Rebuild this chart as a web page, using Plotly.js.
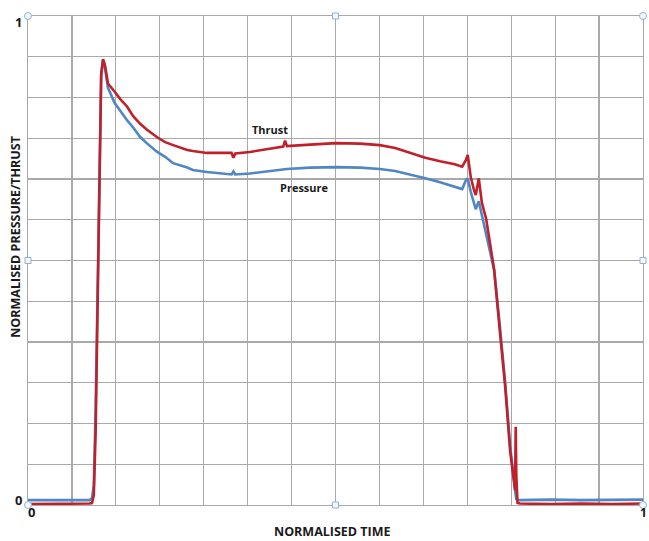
<!DOCTYPE html>
<html>
<head>
<meta charset="utf-8">
<script src="https://cdn.plot.ly/plotly-3.0.1.min.js"></script>
<style>html,body{margin:0;padding:0;background:#fff;}#chart{width:649px;height:541px;}</style>
</head>
<body>
<div id="chart"></div>
<script>
// Normalised time
const time = [0, 0.05, 0.100, 0.104, 0.107, 0.110, 0.113, 0.116, 0.119, 0.122, 0.125, 0.128, 0.130, 0.141, 0.150, 0.161, 0.171, 0.182, 0.193, 0.210, 0.223, 0.236, 0.259, 0.268, 0.291, 0.312, 0.328, 0.331, 0.334, 0.337, 0.361, 0.393, 0.415, 0.418, 0.421, 0.459, 0.501, 0.540, 0.572, 0.597, 0.621, 0.646, 0.670, 0.694, 0.706, 0.712, 0.715, 0.720, 0.725, 0.728, 0.733, 0.738, 0.745, 0.751, 0.758, 0.767, 0.776, 0.784, 0.790, 0.792, 0.793, 0.794, 0.796, 0.800, 0.850, 0.900, 0.950, 1.0];
// Normalised pressure (blue)
const pressure = [0.010, 0.010, 0.010, 0.014, 0.040, 0.200, 0.450, 0.700, 0.880, 0.910, 0.895, 0.870, 0.853, 0.822, 0.805, 0.787, 0.772, 0.753, 0.740, 0.722, 0.712, 0.699, 0.690, 0.685, 0.681, 0.679, 0.676, 0.676, 0.682, 0.676, 0.678, 0.683, 0.687, 0.688, 0.687, 0.690, 0.691, 0.690, 0.687, 0.683, 0.676, 0.668, 0.660, 0.651, 0.646, 0.664, 0.668, 0.640, 0.618, 0.605, 0.621, 0.592, 0.557, 0.520, 0.480, 0.370, 0.250, 0.120, 0.045, 0.030, 0.020, 0.012, 0.010, 0.010, 0.011, 0.010, 0.011, 0.011];
// Normalised thrust (red)
const thrust = [0.002, 0.002, 0.003, 0.004, 0.020, 0.150, 0.420, 0.700, 0.880, 0.912, 0.900, 0.878, 0.862, 0.845, 0.830, 0.815, 0.795, 0.780, 0.768, 0.752, 0.742, 0.736, 0.726, 0.724, 0.720, 0.720, 0.719, 0.720, 0.710, 0.719, 0.722, 0.729, 0.733, 0.745, 0.734, 0.737, 0.740, 0.739, 0.736, 0.730, 0.720, 0.710, 0.703, 0.697, 0.692, 0.705, 0.716, 0.670, 0.645, 0.634, 0.668, 0.618, 0.585, 0.536, 0.481, 0.358, 0.240, 0.110, 0.040, 0.030, 0.160, 0.060, 0.004, 0.003, 0.002, 0.003, 0.002, 0.003];

const seriesNames = ['Pressure', 'Thrust'];
const axisTitleX = 'NORMALISED TIME';
const axisTitleY = 'NORMALISED PRESSURE/THRUST';
const tickLabels = ['0', '1'];

const FONT = '"Open Sans", "Liberation Sans", sans-serif';
const grid = '#a9a9a9';

const gx = [], gxt = [];
for (let i = 0; i <= 14; i++) { gx.push(i / 14); gxt.push(''); }
const gy = [], gyt = [];
for (let i = 0; i <= 12; i++) { gy.push(i / 12); gyt.push(''); }

const traces = [
  {x: time, y: pressure, name: seriesNames[0], mode: 'lines', line: {color: '#4f86c6', width: 2.6}, hoverinfo: 'skip'},
  {x: time, y: thrust, name: seriesNames[1], mode: 'lines', line: {color: '#c0202a', width: 2.6}, hoverinfo: 'skip'}
];

const handle = (x, y, circle) => ({
  type: circle ? 'circle' : 'rect', xref: 'paper', yref: 'paper',
  xsizemode: 'pixel', ysizemode: 'pixel',
  xanchor: x, yanchor: y,
  ...(circle ? {x0: -3.5, x1: 3.5, y0: -3.5, y1: 3.5} : {x0: -3, x1: 3, y0: -3, y1: 3}),
  line: {color: '#8fb3d6', width: 1}, fillcolor: '#f4f8fc', layer: 'above'
});

const ann = (text, x, y, size, extra) => Object.assign({
  text: '<b>' + text + '</b>', xref: 'paper', yref: 'paper', x: x, y: y,
  xanchor: 'center', yanchor: 'middle', showarrow: false, font: {size: size}
}, extra || {});

const layout = {
  width: 649, height: 541,
  margin: {l: 28, r: 6, t: 16, b: 36},
  paper_bgcolor: '#fff', plot_bgcolor: '#fff',
  showlegend: false,
  font: {family: FONT, color: '#1a1a1a'},
  xaxis: {
    range: [0, 1], tickmode: 'array', tickvals: gx, ticktext: gxt,
    showgrid: true, gridcolor: grid, gridwidth: 1.2, zeroline: false,
    showline: true, linecolor: grid, linewidth: 1.2, mirror: true, ticks: '', fixedrange: true
  },
  yaxis: {
    range: [0, 1], tickmode: 'array', tickvals: gy, ticktext: gyt,
    showgrid: true, gridcolor: grid, gridwidth: 1.2, zeroline: false,
    showline: true, linecolor: grid, linewidth: 1.2, mirror: true, ticks: '', fixedrange: true
  },
  annotations: [
    ann(tickLabels[1], -0.016, 0.988, 13),
    ann(tickLabels[0], -0.016, 0.010, 13),
    ann(tickLabels[0], 0.005, -0.014, 13),
    ann(tickLabels[1], 1.0, -0.016, 12),
    ann(axisTitleX, 0.4955, -0.0552, 12.5),
    ann(axisTitleY, -0.0215, 0.548, 12.5, {textangle: -90}),
    ann(seriesNames[1], 0.393, 0.767, 11),
    ann(seriesNames[0], 0.449, 0.650, 11)
  ],
  shapes: [
    handle(0, 1, true), handle(1, 1, true), handle(0, 0, true), handle(1, 0, true),
    handle(0.5, 1, false), handle(0.5, 0, false), handle(0, 0.5, false), handle(1, 0.5, false)
  ]
};

Plotly.newPlot('chart', traces, layout, {staticPlot: true, displayModeBar: false});
</script>
</body>
</html>
